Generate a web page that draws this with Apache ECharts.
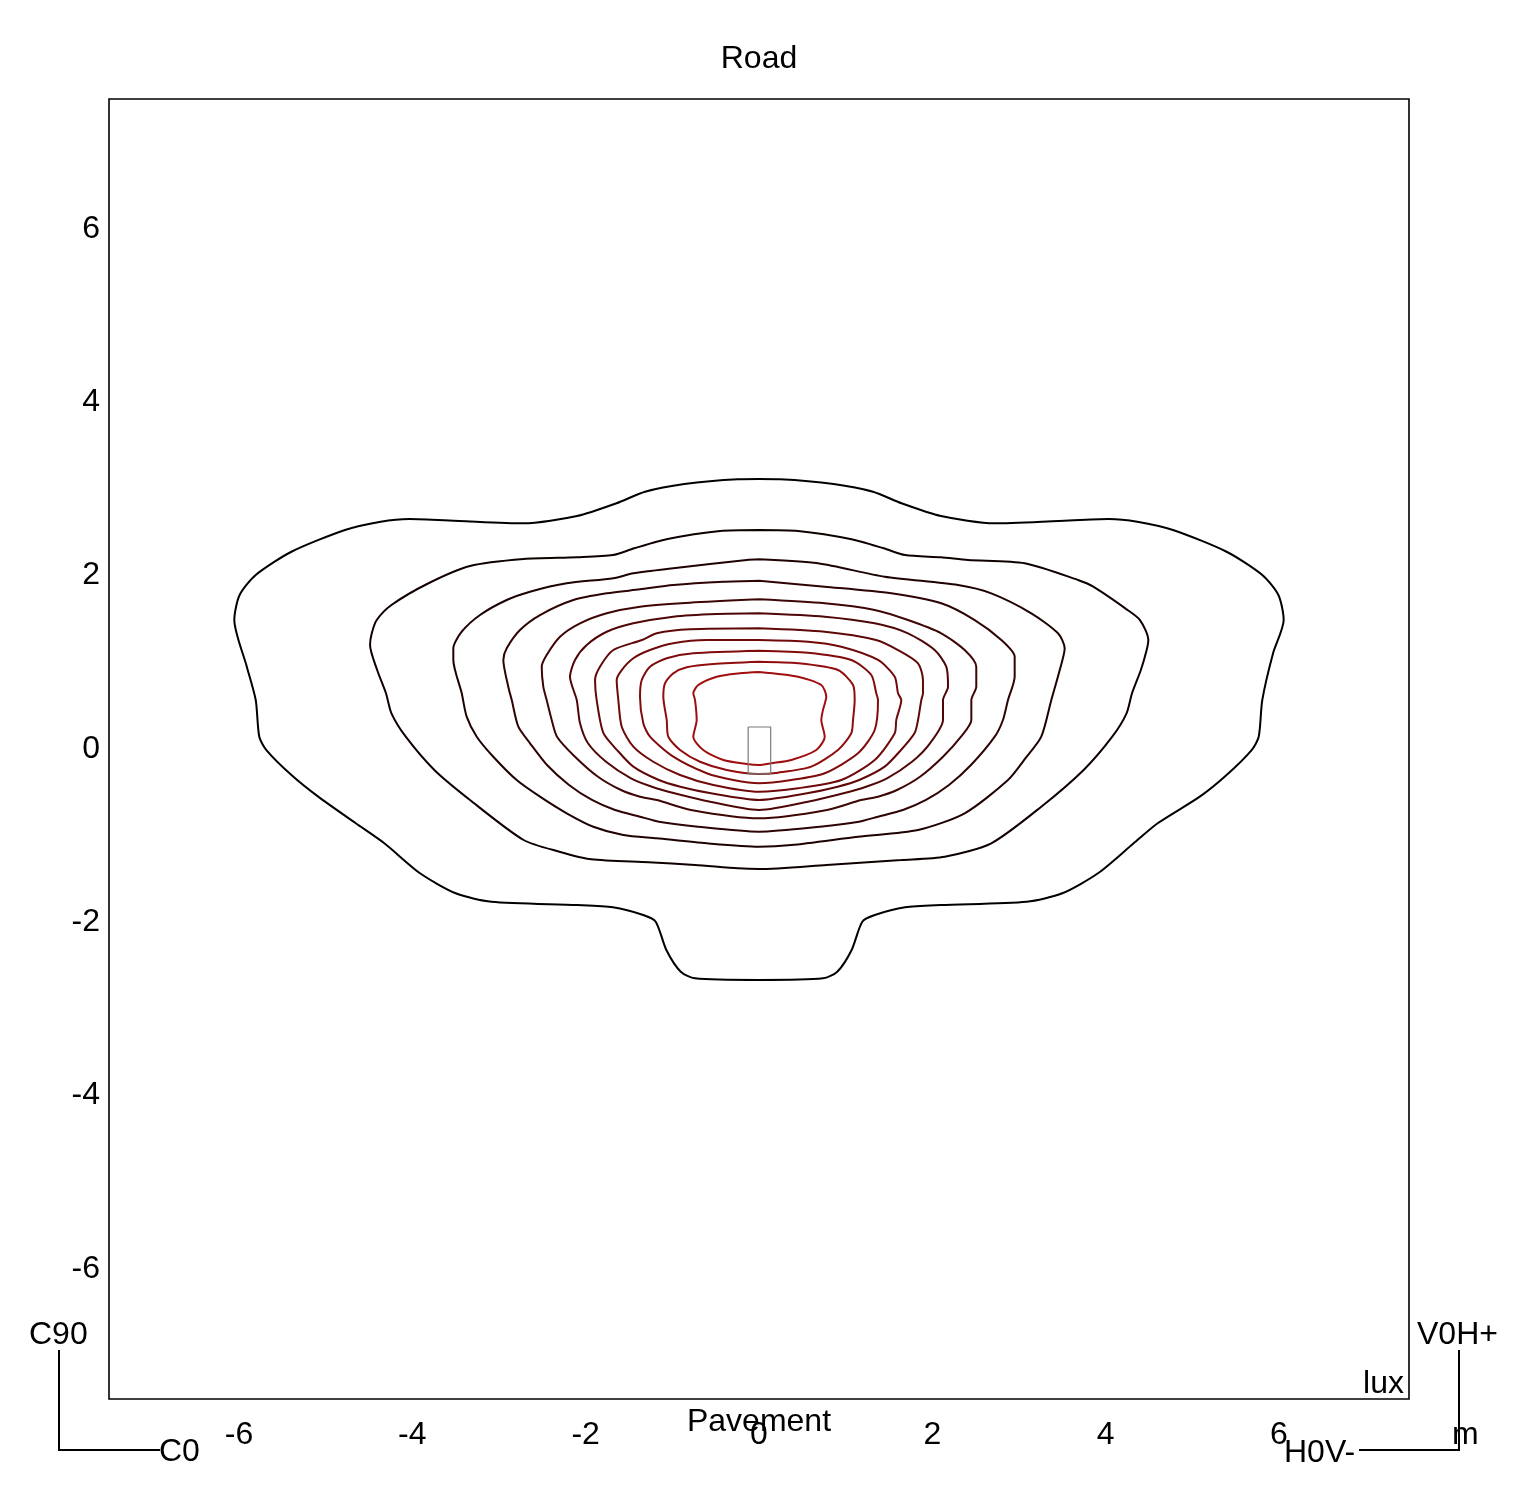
<!DOCTYPE html>
<html>
<head>
<meta charset="utf-8">
<script src="https://cdn.jsdelivr.net/npm/echarts@6/dist/echarts.min.js"></script>
<style>
html,body{margin:0;padding:0;background:#fff;}
#chart{width:1524px;height:1500px;}
</style>
</head>
<body>
<div id="chart"></div>
<script>
// ---- data (metres) ----
const xTickValues = [-6, -4, -2, 0, 2, 4, 6];
const yTickValues = [-6, -4, -2, 0, 2, 4, 6];

const contour1 = [[0,3.115],[0.243,3.112],[0.861,3.058],[1.315,2.969],[1.645,2.835],[2.099,2.688],[2.716,2.604],[3.458,2.631],[4.035,2.654],[4.365,2.623],[4.777,2.527],[5.395,2.276],[5.807,2.008],[5.993,1.777],[6.054,1.488],[5.930,1.100],[5.807,0.565],[5.766,0.142],[5.684,-0.012],[5.395,-0.300],[5.086,-0.550],[4.600,-0.857],[4.323,-1.088],[3.911,-1.434],[3.500,-1.665],[3.088,-1.762],[2.099,-1.800],[1.686,-1.826],[1.336,-1.915],[1.192,-1.993],[1.069,-2.319],[0.903,-2.570],[0.738,-2.646],[0,-2.665],[-0.738,-2.646],[-0.903,-2.570],[-1.069,-2.319],[-1.192,-1.993],[-1.336,-1.915],[-1.686,-1.826],[-2.099,-1.800],[-3.088,-1.762],[-3.500,-1.665],[-3.911,-1.434],[-4.323,-1.088],[-4.653,-0.857],[-5.086,-0.550],[-5.395,-0.300],[-5.684,-0.012],[-5.766,0.142],[-5.807,0.565],[-5.910,0.950],[-6.054,1.488],[-5.993,1.777],[-5.807,2.008],[-5.395,2.276],[-4.777,2.527],[-4.365,2.623],[-4.035,2.654],[-3.458,2.631],[-2.716,2.604],[-2.099,2.688],[-1.645,2.835],[-1.315,2.969],[-0.861,3.058],[-0.243,3.112],[0,3.115]];
const contour2 = [[0,2.527],[0.450,2.515],[1.068,2.420],[1.439,2.316],[1.686,2.238],[2.099,2.212],[2.411,2.181],[3.066,2.143],[3.681,1.950],[3.857,1.873],[4.230,1.620],[4.396,1.488],[4.492,1.258],[4.473,1.142],[4.406,0.912],[4.304,0.643],[4.241,0.412],[4.076,0.142],[3.746,-0.242],[3.257,-0.666],[2.680,-1.088],[2.143,-1.243],[1.642,-1.281],[0.781,-1.338],[0,-1.385],[-0.243,-1.377],[-0.738,-1.338],[-1.274,-1.307],[-1.934,-1.273],[-2.304,-1.185],[-2.716,-1.050],[-3.335,-0.588],[-3.746,-0.242],[-4.076,0.142],[-4.241,0.412],[-4.304,0.643],[-4.406,0.912],[-4.488,1.200],[-4.468,1.335],[-4.411,1.488],[-4.241,1.661],[-3.830,1.904],[-3.335,2.111],[-2.716,2.192],[-2.099,2.212],[-1.686,2.238],[-1.439,2.316],[-1.068,2.420],[-0.450,2.515],[0,2.527]];
const contour3 = [[0,2.189],[0.681,2.143],[1.450,1.988],[2.296,1.892],[2.680,1.796],[3.142,1.566],[3.450,1.335],[3.527,1.162],[3.470,0.911],[3.373,0.565],[3.257,0.142],[3.080,-0.100],[2.873,-0.358],[2.373,-0.742],[1.835,-0.935],[1.142,-1.012],[0.373,-1.108],[0,-1.127],[-0.603,-1.088],[-1.180,-1.030],[-1.566,-0.992],[-1.912,-0.897],[-2.219,-0.742],[-2.527,-0.550],[-2.796,-0.358],[-3.066,-0.089],[-3.257,0.142],[-3.373,0.373],[-3.430,0.643],[-3.527,1.027],[-3.527,1.162],[-3.430,1.353],[-3.219,1.546],[-2.911,1.719],[-2.642,1.815],[-2.219,1.912],[-1.681,1.970],[-1.450,2.027],[-0.989,2.085],[-0.142,2.181],[0,2.189]];
const contour4 = [[0,1.942],[0.758,1.873],[1.527,1.796],[2.103,1.681],[2.489,1.488],[2.796,1.258],[2.950,1.065],[2.950,0.834],[2.873,0.565],[2.815,0.335],[2.720,0.142],[2.446,-0.185],[2.192,-0.415],[1.927,-0.588],[1.661,-0.704],[1.373,-0.781],[1.154,-0.839],[0.704,-0.897],[0,-0.954],[-0.704,-0.897],[-1.154,-0.839],[-1.373,-0.781],[-1.661,-0.704],[-1.927,-0.588],[-2.192,-0.415],[-2.446,-0.185],[-2.642,0.066],[-2.777,0.257],[-2.853,0.565],[-2.893,0.719],[-2.950,1.027],[-2.911,1.162],[-2.758,1.373],[-2.527,1.546],[-2.142,1.719],[-1.757,1.796],[-1.373,1.842],[-0.989,1.892],[-0.412,1.930],[0,1.942]];
const contour5 = [[0,1.727],[0.758,1.681],[1.335,1.604],[1.719,1.488],[2.103,1.335],[2.373,1.142],[2.507,0.950],[2.507,0.719],[2.450,0.565],[2.450,0.335],[2.331,0.142],[2.123,-0.089],[1.858,-0.320],[1.592,-0.473],[1.373,-0.550],[1.177,-0.588],[0.785,-0.704],[0,-0.800],[-0.785,-0.704],[-1.177,-0.588],[-1.373,-0.550],[-1.592,-0.473],[-1.858,-0.320],[-2.123,-0.089],[-2.331,0.142],[-2.392,0.335],[-2.450,0.565],[-2.489,0.719],[-2.507,0.950],[-2.450,1.085],[-2.296,1.296],[-2.065,1.450],[-1.757,1.566],[-1.373,1.642],[-0.796,1.688],[0,1.727]];
const contour6 = [[0,1.566],[0.758,1.527],[1.335,1.450],[1.719,1.335],[2.027,1.142],[2.161,0.950],[2.181,0.719],[2.123,0.565],[2.123,0.335],[1.973,0.066],[1.765,-0.147],[1.477,-0.338],[1.235,-0.435],[0.975,-0.511],[0.658,-0.588],[0,-0.704],[-0.658,-0.588],[-0.975,-0.511],[-1.235,-0.435],[-1.477,-0.338],[-1.765,-0.147],[-1.973,0.066],[-2.065,0.297],[-2.103,0.565],[-2.181,0.834],[-2.123,1.027],[-1.988,1.200],[-1.757,1.353],[-1.450,1.450],[-0.989,1.527],[-0.488,1.558],[0,1.566]];
const contour7 = [[0,1.393],[0.758,1.353],[1.350,1.258],[1.604,1.142],[1.835,0.989],[1.892,0.796],[1.892,0.643],[1.873,0.565],[1.835,0.335],[1.796,0.185],[1.638,-0.012],[1.450,-0.204],[1.156,-0.358],[0.908,-0.435],[0.554,-0.511],[0,-0.588],[-0.554,-0.511],[-0.908,-0.435],[-1.156,-0.358],[-1.450,-0.204],[-1.638,-0.012],[-1.796,0.185],[-1.873,0.565],[-1.892,0.796],[-1.835,0.950],[-1.681,1.142],[-1.350,1.258],[-1.180,1.335],[-0.796,1.381],[0,1.393]];
const contour8 = [[0,1.258],[0.565,1.238],[0.950,1.180],[1.373,1.027],[1.566,0.834],[1.604,0.643],[1.642,0.565],[1.584,0.335],[1.566,0.181],[1.335,-0.127],[0.950,-0.358],[0.450,-0.453],[0,-0.493],[-0.527,-0.415],[-0.911,-0.300],[-1.220,-0.147],[-1.450,0.027],[-1.584,0.257],[-1.623,0.565],[-1.642,0.796],[-1.584,0.911],[-1.450,1.047],[-1.258,1.142],[-0.989,1.220],[-0.603,1.258],[0,1.258]];
const contour9 = [[0,1.134],[0.565,1.111],[1.065,1.027],[1.296,0.854],[1.353,0.643],[1.373,0.565],[1.335,0.219],[1.142,-0.050],[0.758,-0.280],[0.373,-0.358],[0,-0.396],[-0.297,-0.358],[-0.603,-0.280],[-0.989,-0.089],[-1.258,0.142],[-1.335,0.297],[-1.373,0.603],[-1.353,0.796],[-1.258,0.950],[-1.065,1.047],[-0.758,1.104],[0,1.134]];
const contour10 = [[0,1.007],[0.450,0.989],[0.911,0.911],[1.085,0.738],[1.104,0.565],[1.085,0.335],[1.065,0.181],[0.911,-0.012],[0.603,-0.204],[0.219,-0.273],[0,-0.288],[-0.373,-0.242],[-0.681,-0.147],[-0.911,-0.012],[-1.047,0.142],[-1.065,0.335],[-1.104,0.603],[-1.085,0.758],[-0.989,0.873],[-0.834,0.943],[-0.527,0.981],[0,1.007]];
const contour11 = [[0,0.888],[0.450,0.834],[0.719,0.738],[0.776,0.603],[0.738,0.450],[0.719,0.335],[0.758,0.142],[0.661,-0.012],[0.373,-0.127],[0.142,-0.165],[0,-0.185],[-0.142,-0.173],[-0.412,-0.127],[-0.643,-0.012],[-0.758,0.142],[-0.719,0.335],[-0.738,0.565],[-0.758,0.643],[-0.700,0.738],[-0.488,0.834],[-0.219,0.873],[0,0.888]];
const luminaire = [[-0.125,0.254],[0.135,0.254],[0.135,-0.288],[-0.125,-0.288],[-0.125,0.254]];

const contours = [contour1, contour2, contour3, contour4, contour5, contour6, contour7, contour8, contour9, contour10, contour11];
const contourColors = ['#000000','#0f0000','#1e0202','#2e0303','#3e0505','#4f0606','#600808','#700909','#800b0b','#900d0d','#a00f0f'];

const FONT = "'Liberation Sans', Arial, sans-serif";
const FS = 32;
const chart = echarts.init(document.getElementById('chart'), null, {renderer: 'canvas'});

const series = contours.map((c, i) => ({
  type: 'line',
  data: c,
  showSymbol: false,
  symbol: 'none',
  smooth: 0.25,
  lineStyle: {color: contourColors[i], width: 2},
  silent: true,
  z: 3
}));
series.push({
  type: 'line', data: luminaire, showSymbol: false, symbol: 'none', smooth: false,
  lineStyle: {color: '#7a7a7a', width: 1.2}, silent: true, z: 4
});

function txt(s, x, y, align) {
  return {type: 'text', x: x, y: y, z: 10,
    style: {text: s, font: FS + 'px ' + FONT, fill: '#000', textAlign: align, textVerticalAlign: 'middle'}};
}

chart.setOption({
  animation: false,
  backgroundColor: '#ffffff',
  grid: {left: 109, top: 99, width: 1300, height: 1300, show: true, borderColor: '#000', borderWidth: 1.6, containLabel: false},
  xAxis: {
    type: 'value', min: -7.5, max: 7.5,
    axisLine: {show: false}, axisTick: {show: false}, splitLine: {show: false},
    axisLabel: {customValues: xTickValues, margin: 16, fontSize: FS, color: '#000', fontFamily: FONT, padding: [4, 0, 0, 0]}
  },
  yAxis: {
    type: 'value', min: -7.5, max: 7.5,
    axisLine: {show: false}, axisTick: {show: false}, splitLine: {show: false},
    axisLabel: {customValues: yTickValues, margin: 9, fontSize: FS, color: '#000', fontFamily: FONT, padding: [9, 0, 0, 0]}
  },
  series: series,
  graphic: [
    txt('Road', 759, 59, 'center'),
    txt('Pavement', 759, 1422, 'center'),
    txt('lux', 1404, 1384, 'right'),
    txt('C90', 29, 1335, 'left'),
    txt('C0', 159, 1452, 'left'),
    {type: 'polyline', shape: {points: [[59,1350],[59,1450],[160,1450]]}, style: {stroke: '#000', lineWidth: 2, fill: null}},
    txt('V0H+', 1417, 1335, 'left'),
    {type: 'polyline', shape: {points: [[1459,1350],[1459,1450],[1359,1450]]}, style: {stroke: '#000', lineWidth: 2, fill: null}},
    txt('H0V-', 1284, 1453, 'left'),
    txt('m', 1452, 1435, 'left')
  ]
});
</script>
</body>
</html>
